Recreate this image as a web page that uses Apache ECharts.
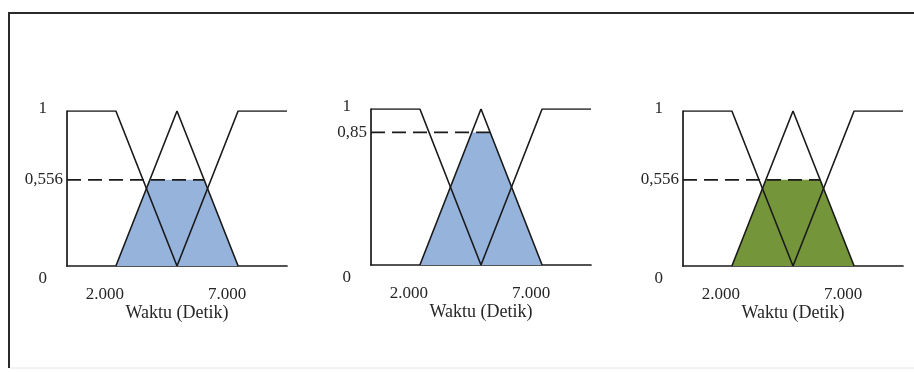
<!DOCTYPE html>
<html>
<head>
<meta charset="utf-8">
<script src="https://cdn.jsdelivr.net/npm/echarts@6/dist/echarts.min.js"></script>
<style>
  html, body { margin: 0; padding: 0; background: #ffffff; }
  #chart { width: 914px; height: 372px; }
</style>
</head>
<body>
<div id="chart"></div>
<script>
// Membership functions for "Waktu (Detik)": low / medium / high
const xTicks = [2000, 7000];
const lowSet = [[0, 1], [2000, 1], [4500, 0]];
const midSet = [[2000, 0], [4500, 1], [7000, 0]];
const highSet = [[4500, 0], [7000, 1], [9000, 1]];

// Alpha-cut level of each panel and the clipped (implied) region
const alphaLevels = [0.556, 0.85, 0.556];
const cutRegion1 = [[2000, 0], [3390, 0.556], [5610, 0.556], [7000, 0]];
const cutRegion2 = [[2000, 0], [4125, 0.85], [4875, 0.85], [7000, 0]];
const cutRegion3 = [[2000, 0], [3390, 0.556], [5610, 0.556], [7000, 0]];
const cutRegions = [cutRegion1, cutRegion2, cutRegion3];
const fillColors = ['#96b3db', '#96b3db', '#75953a'];
const axisTitle = 'Waktu (Detik)';

const FONT = '"Liberation Serif", "DejaVu Serif", serif';
const INK = '#1a1a1a';
const TEXT = '#262626';
const grids = [
  { left: 67, top: 111, width: 220, height: 155 },
  { left: 371, top: 109, width: 220, height: 156 },
  { left: 683, top: 111, width: 220, height: 155 }
];

function thousands(v) {
  return String(v).replace(/\B(?=(\d{3})+(?!\d))/g, '.');
}

const xAxes = [], yAxes = [], series = [];
grids.forEach((g, i) => {
  const h = alphaLevels[i];
  xAxes.push({
    gridIndex: i, type: 'value', min: 0, max: 9000,
    axisLine: { show: true, onZero: false, lineStyle: { color: INK, width: 1.7 } },
    axisTick: { show: false }, splitLine: { show: false },
    axisLabel: {
      customValues: xTicks, margin: 20, color: TEXT,
      fontFamily: FONT, fontSize: 17, padding: [0, 22, 0, 0],
      formatter: v => thousands(v)
    },
    name: axisTitle, nameLocation: 'middle', nameGap: 35,
    nameTextStyle: { fontFamily: FONT, fontSize: 18, color: TEXT }
  });
  yAxes.push({
    gridIndex: i, type: 'value', min: 0, max: 1,
    axisLine: { show: true, onZero: false, lineStyle: { color: INK, width: 1.7 } },
    axisTick: { show: false }, splitLine: { show: false },
    axisLabel: {
      customValues: [0, h, 1], margin: 4, color: TEXT,
      fontFamily: FONT, fontSize: 17,
      formatter: v => v === 0 ? '{z|0}' : v === 1 ? '{o|1}' : '{m|' + String(v).replace('.', ',') + '}',
      rich: {
        z: { fontFamily: FONT, fontSize: 17, color: TEXT, padding: [26, 16, 0, 0] },
        o: { fontFamily: FONT, fontSize: 17, color: TEXT, padding: [0, 16, 4, 0] },
        m: { fontFamily: FONT, fontSize: 17, color: TEXT }
      }
    }
  });
  // shaded alpha-cut region
  series.push({
    type: 'line', xAxisIndex: i, yAxisIndex: i, data: cutRegions[i],
    showSymbol: false, silent: true, z: 1,
    lineStyle: { width: 0, opacity: 0 },
    areaStyle: { color: fillColors[i], opacity: 1, origin: 'start' }
  });
  // membership curves
  [lowSet, midSet, highSet].forEach(d => {
    series.push({
      type: 'line', xAxisIndex: i, yAxisIndex: i, data: d,
      showSymbol: false, silent: true, z: 3,
      lineStyle: { color: INK, width: 1.6 }
    });
  });
  // dashed alpha level from the axis to the cut
  const cut = cutRegions[i];
  series.push({
    type: 'line', xAxisIndex: i, yAxisIndex: i,
    data: [[0, h], [cut[2][0], h]],
    showSymbol: false, silent: true, z: 4,
    lineStyle: { color: INK, width: 1.8, type: [14, 7] }
  });
});

const chart = echarts.init(document.getElementById('chart'), null, { renderer: 'canvas' });
chart.setOption({
  animation: false,
  backgroundColor: '#ffffff',
  grid: grids,
  xAxis: xAxes,
  yAxis: yAxes,
  series: series,
  graphic: [
    { type: 'line', shape: { x1: 9, y1: 13, x2: 914, y2: 13 }, style: { stroke: '#2a2a2a', lineWidth: 2 } },
    { type: 'line', shape: { x1: 9, y1: 12, x2: 9, y2: 368 }, style: { stroke: '#2a2a2a', lineWidth: 2 } },
    { type: 'line', shape: { x1: 10, y1: 368, x2: 914, y2: 368 }, style: { stroke: '#e6e6e6', lineWidth: 1 } }
  ]
});
</script>
</body>
</html>
